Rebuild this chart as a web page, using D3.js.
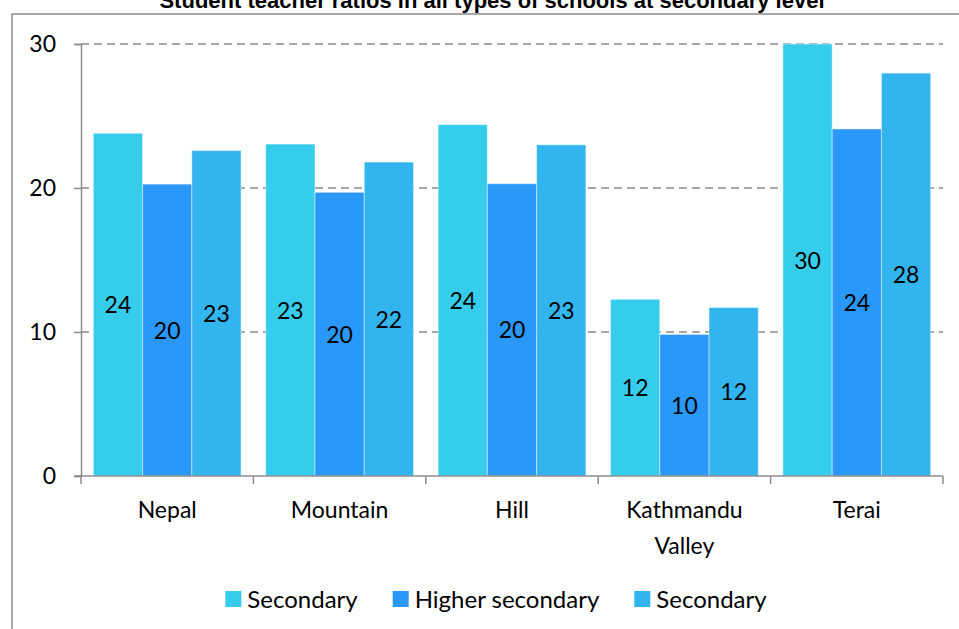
<!DOCTYPE html>
<html>
<head>
<meta charset="utf-8">
<script src="https://cdn.jsdelivr.net/npm/d3@7"></script>
<style>
  html, body { margin: 0; padding: 0; background: #fff; }
  svg { display: block; }
</style>
</head>
<body>
<svg id="chart" width="959" height="629"></svg>
<script>
// Student teacher ratios by region, three school levels
const categories = ["Nepal", "Mountain", "Hill", "Kathmandu Valley", "Terai"];
const seriesNames = ["Secondary", "Higher secondary", "Secondary"];
const secondary = [23.8, 23.05, 24.4, 12.27, 30.0];
const higherSecondary = [20.27, 19.7, 20.3, 9.83, 24.1];
const secondaryAll = [22.6, 21.8, 23.0, 11.7, 27.98];
const yTicks = [0, 10, 20, 30];
const titleText = "Student teacher ratios in all types of schools at secondary level";

const seriesValues = [secondary, higherSecondary, secondaryAll];
const colors = ["#35cdeb", "#2a98f8", "#32b5ef"];

const svg = d3.select("#chart");
const font = "Lato, 'Open Sans', sans-serif";

const plot = { left: 81, right: 943, top: 44, bottom: 476 };

// outer frame
svg.append("rect")
  .attr("x", 12).attr("y", 14)
  .attr("width", 980).attr("height", 660)
  .attr("fill", "none")
  .attr("stroke", "#8c8c8c")
  .attr("stroke-width", 1.5);

// title, sitting just above the frame
svg.append("text")
  .attr("x", 492).attr("y", 8)
  .attr("text-anchor", "middle")
  .attr("font-family", "'Liberation Sans', Arial, sans-serif")
  .attr("font-weight", "bold")
  .attr("font-size", 22)
  .attr("fill", "#000")
  .text(titleText);

const x = d3.scaleBand()
  .domain(categories)
  .range([plot.left, plot.right])
  .paddingInner(0).paddingOuter(0);

const bw = x.bandwidth();
const x1 = d3.scaleBand()
  .domain(d3.range(seriesValues.length))
  .range([bw * 0.0715, bw * (1 - 0.0715)])
  .paddingInner(0).paddingOuter(0);

const y = d3.scaleLinear()
  .domain([0, 30])
  .range([plot.bottom, plot.top]);

// dashed gridlines
svg.append("g")
  .selectAll("line")
  .data(yTicks.filter(t => t > 0))
  .join("line")
  .attr("x1", plot.left).attr("x2", plot.right)
  .attr("y1", d => y(d)).attr("y2", d => y(d))
  .attr("stroke", "#8a8a8a")
  .attr("stroke-width", 1.5)
  .attr("stroke-dasharray", "8,5");

// bars
const groups = svg.append("g")
  .selectAll("g")
  .data(categories)
  .join("g")
  .attr("transform", d => `translate(${x(d)},0)`);

groups.selectAll("rect")
  .data((c, ci) => seriesValues.map((vals, si) => ({ si, v: vals[ci] })))
  .join("rect")
  .attr("x", d => x1(d.si))
  .attr("y", d => y(d.v))
  .attr("width", x1.bandwidth())
  .attr("height", d => y(0) - y(d.v))
  .attr("fill", d => colors[d.si])
  .attr("stroke", "rgba(255,255,255,0.45)")
  .attr("stroke-width", 1);

// value labels centred in each bar
groups.selectAll("text")
  .data((c, ci) => seriesValues.map((vals, si) => ({ si, v: vals[ci] })))
  .join("text")
  .attr("x", d => x1(d.si) + x1.bandwidth() / 2)
  .attr("y", d => (y(d.v) + y(0)) / 2 + 8.5)
  .attr("text-anchor", "middle")
  .attr("font-family", font)
  .attr("font-size", 23)
  .attr("fill", "#000")
  .text(d => d3.format(".0f")(d.v));

// y axis
const yAxis = svg.append("g")
  .attr("transform", `translate(${plot.left},0)`)
  .call(d3.axisLeft(y).tickValues(yTicks).tickSize(7).tickPadding(18).tickFormat(d3.format("d")));
yAxis.select(".domain").attr("stroke", "#8c8c8c").attr("stroke-width", 1.5);
yAxis.selectAll(".tick line").attr("stroke", "#8c8c8c").attr("stroke-width", 1.5);
yAxis.selectAll(".tick text")
  .attr("font-family", font).attr("font-size", 23).attr("fill", "#000");

// x axis: baseline with ticks between categories
const xAxisG = svg.append("g");
xAxisG.append("line")
  .attr("x1", plot.left - 7).attr("x2", plot.right)
  .attr("y1", y(0)).attr("y2", y(0))
  .attr("stroke", "#8c8c8c").attr("stroke-width", 1.5);
const boundaries = categories.map(c => x(c)).concat([x(categories[categories.length - 1]) + bw]);
xAxisG.selectAll("line.tk")
  .data(boundaries)
  .join("line")
  .attr("class", "tk")
  .attr("x1", d => d).attr("x2", d => d)
  .attr("y1", y(0)).attr("y2", y(0) + 8)
  .attr("stroke", "#8c8c8c").attr("stroke-width", 1.5);

xAxisG.selectAll("text")
  .data(categories)
  .join("text")
  .attr("text-anchor", "middle")
  .attr("font-family", font)
  .attr("font-size", 23)
  .attr("fill", "#000")
  .each(function (d) {
    const words = d.split(" ");
    const t = d3.select(this);
    const cx = x(d) + bw / 2;
    // wrap long labels on two lines
    const lines = words.length > 1 && d.length > 12 ? words : [d];
    lines.forEach((w, i) => {
      t.append("tspan").attr("x", cx).attr("y", 518 + i * 36).text(w);
    });
  });

// legend
const legend = svg.append("g");
const items = legend.selectAll("g")
  .data(seriesNames)
  .join("g");
items.append("rect")
  .attr("width", 16).attr("height", 16)
  .attr("y", 591)
  .attr("fill", (d, i) => colors[i]);
items.append("text")
  .attr("x", 22).attr("y", 608)
  .attr("font-family", font).attr("font-size", 24).attr("fill", "#000")
  .text(d => d);
let cursor = 0;
const offsets = [];
items.each(function () {
  const w = d3.select(this).select("text").node().getComputedTextLength();
  offsets.push(cursor);
  cursor += 22 + w + 35;
});
const total = cursor - 35;
const start = 496 - total / 2;
items.attr("transform", (d, i) => `translate(${start + offsets[i]},0)`);
</script>
</body>
</html>
